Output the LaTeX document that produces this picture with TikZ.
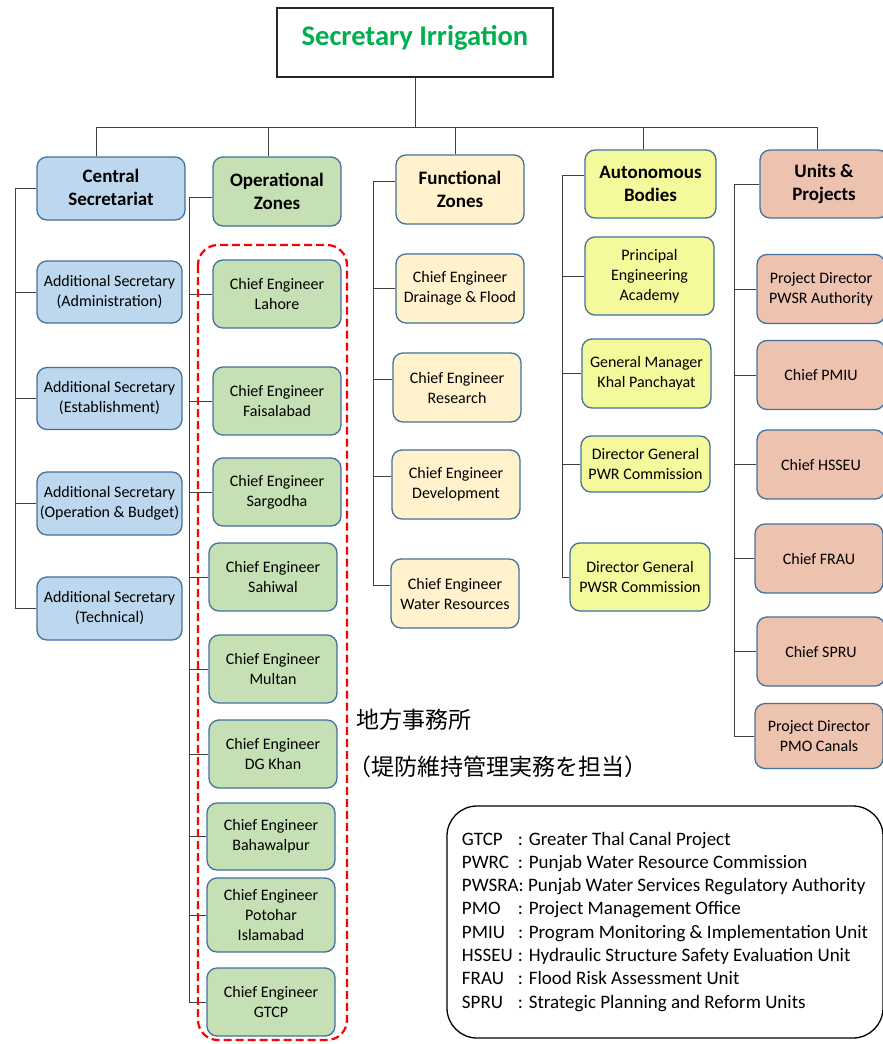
\documentclass[tikz,border=0pt]{standalone}
\usepackage{fontspec}
\setmainfont{Carlito}
\newfontfamily\jpfont{Noto Sans CJK JP}
\definecolor{boxline}{HTML}{41719C}
\definecolor{linkgray}{HTML}{3F3F3F}
\definecolor{blueA}{HTML}{BDD7EE}
\definecolor{greenA}{HTML}{C5E0B4}
\definecolor{creamA}{HTML}{FFF2CC}
\definecolor{yellowA}{HTML}{F4F99C}
\definecolor{salmonA}{HTML}{EDC2AE}
\definecolor{titlegreen}{HTML}{00B050}
\begin{document}
\begin{tikzpicture}[x=1pt,y=-1pt,
  box/.style={draw=boxline,line width=1.3pt,rounded corners=10pt,align=center,inner sep=2pt,font=\fontsize{16}{20}\selectfont},
  hdr/.style={box,font=\bfseries\fontsize{19}{23}\selectfont},
  wh/.style 2 args={minimum width=#1,minimum height=#2},
  link/.style={draw=linkgray,line width=0.9pt}]
\fill[white] (0,0) rectangle (883,1044);
\useasboundingbox (0,0) rectangle (883,1044);
\clip (0,0) rectangle (883,1044);
\node[draw=black!85,line width=1.4pt,wh={276}{69},text height=18pt,text depth=12pt,text=titlegreen,font=\bfseries\fontsize{28.5}{30}\selectfont] (sec) at (415,42.5) {Secretary Irrigation};
\node[hdr,fill=blueA,wh={148}{63},text depth=2pt] (cs) at (111,188.5) {Central\\Secretariat};
\node[box,fill=blueA,wh={145}{62}] (as1) at (109.5,292) {Additional Secretary\\(Administration)};
\node[box,fill=blueA,wh={145}{62}] (as2) at (109.5,398.5) {Additional Secretary\\(Establishment)};
\node[box,fill=blueA,wh={145}{63}] (as3) at (109.5,503.5) {Additional Secretary\\(Operation \& Budget)};
\node[box,fill=blueA,wh={145}{63}] (as4) at (109.5,608.5) {Additional Secretary\\(Technical)};
\node[hdr,fill=greenA,wh={128}{69}] (oz) at (277,191.5) {Operational\\Zones};
\node[box,fill=greenA,wh={128}{68}] (ce1) at (277,294) {Chief Engineer\\Lahore};
\node[box,fill=greenA,wh={128}{68}] (ce2) at (277,401) {Chief Engineer\\Faisalabad};
\node[box,fill=greenA,wh={128}{68}] (ce3) at (277,492) {Chief Engineer\\Sargodha};
\node[box,fill=greenA,wh={128}{68}] (ce4) at (273,577) {Chief Engineer\\Sahiwal};
\node[box,fill=greenA,wh={128}{68}] (ce5) at (273,669) {Chief Engineer\\Multan};
\node[box,fill=greenA,wh={128}{68}] (ce6) at (273,754) {Chief Engineer\\DG Khan};
\node[box,fill=greenA,wh={128}{67}] (ce7) at (271,836.5) {Chief Engineer\\Bahawalpur};
\node[box,fill=greenA,wh={128}{74}] (ce8) at (271,915) {Chief Engineer\\Potohar\\Islamabad};
\node[box,fill=greenA,wh={128}{68}] (ce9) at (271,1002) {Chief Engineer\\GTCP};
\node[hdr,fill=creamA,wh={128}{69}] (fz) at (460,189.5) {Functional\\Zones};
\node[box,fill=creamA,wh={128}{69}] (fz1) at (460,288.5) {Chief Engineer\\Drainage \& Flood};
\node[box,fill=creamA,wh={128}{69}] (fz2) at (457,387.5) {Chief Engineer\\Research};
\node[box,fill=creamA,wh={128}{69}] (fz3) at (456,484.5) {Chief Engineer\\Development};
\node[box,fill=creamA,wh={128}{69}] (fz4) at (455,593.5) {Chief Engineer\\Water Resources};
\node[hdr,fill=yellowA,wh={131}{68}] (ab) at (650.5,184) {Autonomous\\Bodies};
\node[box,fill=yellowA,wh={129}{78}] (ab1) at (649.5,276) {Principal\\Engineering\\Academy};
\node[box,fill=yellowA,wh={129}{69}] (ab2) at (646.5,373.5) {General Manager\\Khal Panchayat};
\node[box,fill=yellowA,wh={129}{56}] (ab3) at (645.5,464) {Director General\\PWR Commission};
\node[box,fill=yellowA,wh={140}{68}] (ab4) at (640,577) {Director General\\PWSR Commission};
\node[hdr,fill=salmonA,wh={128}{68}] (up) at (824,184) {Units \&\\Projects};
\node[box,fill=salmonA,wh={128}{69}] (up1) at (821,289) {Project Director\\PWSR Authority};
\node[box,fill=salmonA,wh={128}{69}] (up2) at (821,375) {Chief PMIU};
\node[box,fill=salmonA,wh={128}{69}] (up3) at (821,464.5) {Chief HSSEU};
\node[box,fill=salmonA,wh={128}{69}] (up4) at (819,558.5) {Chief FRAU};
\node[box,fill=salmonA,wh={128}{69}] (up5) at (821,651.5) {Chief SPRU};
\node[box,fill=salmonA,wh={128}{65}] (up6) at (819,736) {Project Director\\PMO Canals};
\coordinate (bus) at (0,127);
\coordinate (csbus) at (15,0);
\coordinate (ozbus) at (189,0);
\coordinate (fzbus) at (373,0);
\coordinate (abbus) at (562,0);
\coordinate (upbus) at (734,0);
\draw[link] (sec.south) -- (sec.south |- bus);
\draw[link] ([xshift=-15pt]cs.north) |- ([xshift=-7pt]up.north |- bus) -- ([xshift=-7pt]up.north);
\draw[link] ([xshift=-9pt]oz.north) -- ([xshift=-9pt]oz.north |- bus);
\draw[link] ([xshift=-5pt]fz.north) -- ([xshift=-5pt]fz.north |- bus);
\draw[link] ([xshift=-7pt]ab.north) -- ([xshift=-7pt]ab.north |- bus);
\draw[link] (cs.west) -- (cs.west -| csbus) |- (as4.west);
\draw[link] (as1.west) -- (as1.west -| csbus);
\draw[link] (as2.west) -- (as2.west -| csbus);
\draw[link] (as3.west) -- (as3.west -| csbus);
\draw[link] ([yshift=-6pt]oz.west) -- ([yshift=-6pt]oz.west -| ozbus) |- (ce9.west);
\draw[link] (ce1.west) -- (ce1.west -| ozbus);
\draw[link] (ce2.west) -- (ce2.west -| ozbus);
\draw[link] (ce3.west) -- (ce3.west -| ozbus);
\draw[link] (ce4.west) -- (ce4.west -| ozbus);
\draw[link] (ce5.west) -- (ce5.west -| ozbus);
\draw[link] (ce6.west) -- (ce6.west -| ozbus);
\draw[link] (ce7.west) -- (ce7.west -| ozbus);
\draw[link] (ce8.west) -- (ce8.west -| ozbus);
\draw[link] ([yshift=8pt]fz.west) -- ([yshift=8pt]fz.west -| fzbus) |- ([yshift=8pt]fz4.west);
\draw[link] (fz1.west) -- (fz1.west -| fzbus);
\draw[link] ([yshift=8pt]fz2.west) -- ([yshift=8pt]fz2.west -| fzbus);
\draw[link] ([yshift=8pt]fz3.west) -- ([yshift=8pt]fz3.west -| fzbus);
\draw[link] ([yshift=9pt]ab.west) -- ([yshift=9pt]ab.west -| abbus) |- (ab4.west);
\draw[link] (ab1.west) -- (ab1.west -| abbus);
\draw[link] (ab2.west) -- (ab2.west -| abbus);
\draw[link] (ab3.west) -- (ab3.west -| abbus);
\draw[link] (up.west) -- (up.west -| upbus) |- (up6.west);
\draw[link] (up1.west) -- (up1.west -| upbus);
\draw[link] (up2.west) -- (up2.west -| upbus);
\draw[link] (up3.west) -- (up3.west -| upbus);
\draw[link] (up4.west) -- (up4.west -| upbus);
\draw[link] (up5.west) -- (up5.west -| upbus);
\draw[red,line width=2.2pt,dash pattern=on 8pt off 4pt,rounded corners=20pt] (198,245) rectangle (347,1040);
\node[anchor=west,inner sep=0pt,font=\jpfont\fontsize{23}{23}\selectfont] (jp1) at (356,720) {地方事務所};
\node[anchor=west,inner sep=0pt,font=\jpfont\fontsize{23}{23}\selectfont] (jp2) at (348,767) {（堤防維持管理実務を担当）};
\node[draw=black,line width=1.3pt,rounded corners=30pt,wh={436}{232},align=left,inner sep=0pt,text depth=4pt,font=\fontsize{19}{23.3}\selectfont] (key) at (665,922) {\makebox[56pt][l]{GTCP}: Greater Thal Canal Project\\
\makebox[56pt][l]{PWRC}: Punjab Water Resource Commission\\
PWSRA: Punjab Water Services Regulatory Authority\\
\makebox[56pt][l]{PMO}: Project Management Office\\
\makebox[56pt][l]{PMIU}: Program Monitoring \& Implementation Unit\\
\makebox[56pt][l]{HSSEU}: Hydraulic Structure Safety Evaluation Unit\\
\makebox[56pt][l]{FRAU}: Flood Risk Assessment Unit\\
\makebox[56pt][l]{SPRU}: Strategic Planning and Reform Units};
\end{tikzpicture}
\end{document}
